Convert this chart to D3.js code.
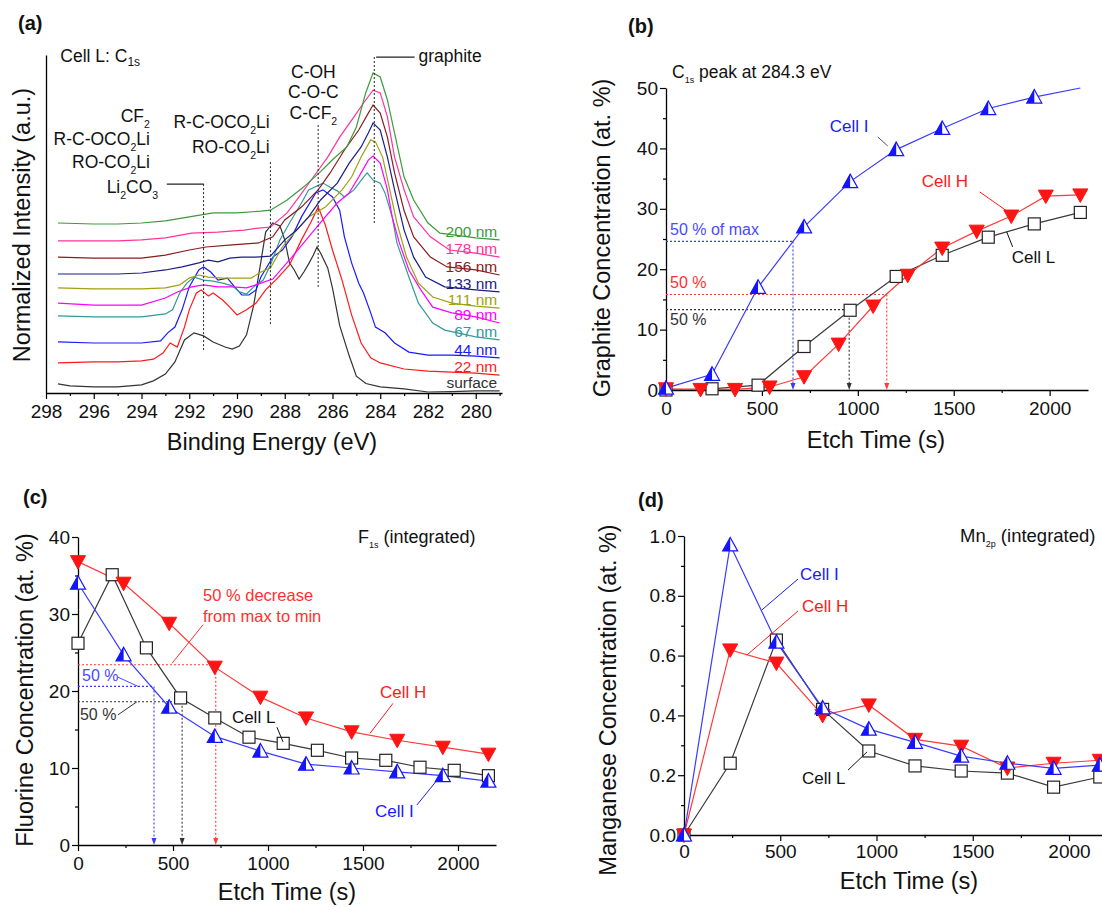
<!DOCTYPE html>
<html>
<head>
<meta charset="utf-8">
<script src="https://cdn.jsdelivr.net/npm/d3@7"></script>
<style>
  body { margin:0; background:#fff; }
  svg text { font-family: Arial, "Liberation Sans", sans-serif; }
</style>
</head>
<body>
<svg id="fig" width="1102" height="907"></svg>
<script>
// ---------- panel (a): C1s spectra, [binding energy (eV), normalized intensity] ----------
var spectrumSurface = [[297.5,2.7],[297,2.1],[296,1.8],[295,1.8],[294,2.4],[293.5,3.6],[293,5.6],[292.6,9.2],[292.2,15.7],[291.8,17.8],[291.4,16.9],[291,15.1],[290.5,13.6],[290.2,13],[289.9,13.9],[289.6,17.2],[289.3,26],[289,38.8],[288.8,47.6],[288.5,50.3],[288.2,49.4],[288,45.3],[287.8,38.5],[287.6,36.4],[287.4,33.7],[287.2,35.8],[287,38.2],[286.8,40.8],[286.65,43.2],[286.5,41.4],[286.2,37],[286,31],[285.7,20],[285.3,11],[285,5],[284.6,2.8],[284,1.8],[283,1.2],[282,0.3],[281,0.4],[280,0.6],[279,0.6]];
var spectrum22 = [[297.5,8.9],[296,9.2],[295,9.2],[294,9.5],[293.5,10],[293.1,11.8],[292.8,14.8],[292.5,13.6],[292.2,19.5],[292,24.6],[291.7,29.6],[291.5,30.5],[291.2,28.7],[291,29.6],[290.6,27.5],[290.3,25.4],[290,23.1],[289.6,24.6],[289.2,26.6],[288.8,30.5],[288.3,34],[287.8,37.9],[287.3,45.3],[286.9,50.6],[286.6,55],[286.3,49.7],[286,42.3],[285.6,33.4],[285.2,23.1],[284.8,14.8],[284.4,10.4],[284,8.9],[283,7.1],[282,6.5],[281,6.2],[280,5.9],[279,5.3]];
var spectrum44 = [[297.5,15.1],[296,14.8],[295,14.8],[294,14.8],[293.2,15.4],[292.9,17.8],[292.6,19.5],[292.3,24.6],[292,31.4],[291.6,36.4],[291.4,37.3],[291.1,35.8],[290.8,33.4],[290.4,34],[290.1,31.4],[289.8,29],[289.5,29],[289.2,30.5],[289,34.3],[288.5,40.2],[288.1,42.3],[287.7,46.2],[287.3,52.1],[286.7,59.2],[286.4,60.1],[286,58],[285.7,54.1],[285.5,46.2],[285.2,38.5],[284.9,32.5],[284.7,29.6],[284.4,23.7],[284.2,19.5],[283.8,17.8],[283.4,14.8],[282.8,12.1],[282,11.2],[281,11.2],[280,10.9],[279,10.4]];
var spectrum67 = [[297.5,22.8],[296,22.5],[295,22.5],[294,22.5],[293,23.4],[292.7,24.6],[292.4,29.6],[292.1,32.5],[291.8,34.3],[291.4,33.4],[291,33.1],[290.6,32.5],[290.2,31.7],[289.9,29.9],[289.6,29.3],[289.3,31.4],[288.9,33.4],[288.6,37.9],[288.2,45.3],[287.8,50.3],[287.3,56.2],[287,60.1],[286.4,62.1],[286.1,60.9],[285.8,59.8],[285.5,58],[285.1,60.1],[284.7,63.9],[284.55,65.1],[284.3,63],[284,62.1],[283.8,59.2],[283.5,52.1],[283.3,44.4],[282.8,34.3],[282.4,26.6],[281.8,20.7],[281.3,18.6],[280,16.6],[279,15.7]];
var spectrum89 = [[297.5,26.6],[296,26],[295,26],[294,26],[293,28.1],[292.5,29.9],[291.9,31.4],[291.4,32],[290.8,31.4],[290.2,31.4],[289.6,31.1],[289,32.5],[288.5,33.7],[287.7,40.2],[287,46.2],[286.3,52.1],[285.8,56.2],[285.3,59.2],[284.9,63.9],[284.5,68.9],[284.3,70.1],[284,68],[283.7,60.1],[283.5,52.1],[283.2,44.4],[282.8,36.4],[282.3,30.5],[281.8,25.4],[281,23.7],[280,22.5],[279,20.7]];
var spectrum111 = [[297.5,31.1],[296,30.8],[295,30.8],[294,30.8],[293,31.1],[292.4,32],[292,34],[291.6,34.9],[291.2,34.3],[290.6,34],[290,34],[289.4,34],[289,35.8],[288.6,37],[288.1,43.2],[287.5,48.2],[287,52.1],[286.3,55],[285.6,60.1],[285.2,63.9],[284.8,69.8],[284.4,74.9],[284.2,74.3],[283.9,69.8],[283.6,60.1],[283.3,50.3],[282.9,40.2],[282.4,32.5],[281.8,28.4],[281,26.6],[280,25.7],[279,25.1]];
var spectrum133 = [[297.5,35.2],[296,35.2],[295,35.2],[294,35.5],[293,36.4],[292.3,37.3],[291.6,38.5],[291.2,39.3],[290.8,38.8],[290.3,39.9],[289.8,40.2],[289.2,40.2],[288.6,40.5],[288,45.3],[287.5,48.2],[287,52.1],[286.5,57.1],[285.8,62.1],[285.3,68],[284.8,72.8],[284.5,76.9],[284.3,79.9],[284,77.8],[283.7,69.8],[283.4,60.1],[283,48.2],[282.6,40.2],[282.1,34.3],[281.3,31.4],[280,30.5],[279,29.9]];
var spectrum156 = [[297.5,40.2],[296,39.9],[295,39.9],[294,39.9],[293,40.8],[292,42.3],[291.3,43.2],[290.2,43.8],[289.1,44.4],[288.5,46.2],[288,51.2],[287.3,55],[286.6,60.1],[286.1,65.1],[285.5,71.9],[284.9,77.8],[284.5,82.8],[284.3,85.2],[284,82.8],[283.7,75.7],[283.4,65.1],[283,53.9],[282.6,46.2],[281.9,40.2],[281.2,37.3],[280,36.4],[279,34.9]];
var spectrum178 = [[297.5,45],[296,45],[295,45],[294,45.3],[293,45.9],[291.9,47.3],[290.8,47.6],[289.7,48.2],[289.1,48.8],[288.6,49.1],[287.9,53.3],[287.4,58],[286.8,63.9],[286.2,69.8],[285.7,75.7],[285.1,81.7],[284.7,85.8],[284.3,89.6],[284,88.8],[283.7,81.7],[283.4,69.8],[283,60.1],[282.6,52.1],[281.9,46.2],[281.1,42.3],[280,41.4],[279,40.2]];
var spectrum200 = [[297.5,50.3],[296,50],[295,50],[294,50.3],[293,50.9],[292,52.1],[291,53.3],[290,53.3],[289,53.8],[288.6,54.1],[287.9,57.1],[287.2,61],[286.5,65.5],[286,69],[285.4,72.8],[285,78.7],[284.6,89],[284.3,94.7],[284,93.5],[283.7,86.7],[283.4,76.9],[283,63.9],[282.6,57.1],[282,50.3],[281.5,47.3],[280,45.9],[279,45.3]];
var depthLabels = ["surface","22 nm","44 nm","67 nm","89 nm","111 nm","133 nm","156 nm","178 nm","200 nm"];
var spectraList = [spectrumSurface,spectrum22,spectrum44,spectrum67,spectrum89,spectrum111,spectrum133,spectrum156,spectrum178,spectrum200];
var spectraColors = ["#333333","#ff1a1a","#1a1aff","#339999","#ff00ff","#a0a010","#1c1c8b","#8b1c1c","#ff3399","#3c9a3c"];

// ---------- panels (b)-(d): etch time (s) vs concentration ----------
var etch240 = [0,240,480,720,960,1200,1440,1680,1920,2160];
var etch180 = [0,180,360,540,720,900,1080,1260,1440,1620,1800,1980,2160];

var graphiteI = [0.3,2.6,17,27,34.5,39.8,43.3,46.6,48.5,51];
var graphiteH = [0.2,0.1,0.1,0.5,2.2,7.6,13.9,19,23.5,26.3,28.8,32.1,32.3];
var graphiteL = [0,0.2,0.8,7.2,13.2,18.8,22.3,25.3,27.5,29.4];

var fluorineI = [34,24.7,17.9,14.1,12.2,10.5,10,9.5,9,8.3];
var fluorineH = [36.8,34,28.8,23.1,19.2,16.5,14.7,13.6,12.7,11.8];
var fluorineL = [26.2,35.1,25.6,19.1,16.5,14,13.2,12.3,11.3,11,10.1,9.7,9];

var manganeseI = [0,0.97,0.645,0.425,0.354,0.31,0.264,0.24,0.223,0.234];
var manganeseH = [0,0.619,0.575,0.4,0.435,0.32,0.297,0.224,0.24,0.25];
var manganeseL = [0,0.24,0.652,0.42,0.281,0.231,0.214,0.207,0.16,0.194];

// 50 % points: cells I, H, L
var halfCells = ["I","H","L"];
var graphiteHalfLevel = [24.6,15.8,13.3];
var graphiteHalfTime = [662,1151,955];
var fluorineHalfLevel = [20.6,23.4,18.6];
var fluorineHalfTime = [400,725,548];

var FONT = 'Arial, "Liberation Sans", sans-serif';
var TICK = 19, TITLE = 23.5;
var cellStyle = {
  I:{line:"#3a3aff", color:"#1414ff", text:"#1a1aff"},
  H:{line:"#ff3a3a", color:"#ff1414", text:"#ff1a1a"},
  L:{line:"#3a3a3a", color:"#222222", text:"#111111"}
};

var svg = d3.select("#fig");
svg.append("rect").attr("width",1102).attr("height",907).attr("fill","#fff");

function addText(g, x, y, str, o){
  o = o || {};
  var t = g.append("text").attr("x",x).attr("y",y)
    .attr("font-size",o.size||16).attr("fill",o.color||"#111")
    .attr("text-anchor",o.anchor||"start")
    .attr("font-weight",o.weight||"normal");
  var parts = str.split(/(_\{[^}]*\})/).filter(function(p){return p.length>0;});
  var shift = 0;
  var subDy = o.subDy||5, subSize = o.subSize||10;
  parts.forEach(function(p){
    if(p.indexOf("_{")===0){
      t.append("tspan").attr("dy",subDy).attr("font-size",subSize).text(p.slice(2,-1));
      shift = subDy;
    } else {
      t.append("tspan").attr("dy",-shift).text(p);
      shift = 0;
    }
  });
  return t;
}

function styleAxis(sel, size){
  sel.attr("font-family",FONT);
  sel.select(".domain").attr("stroke","#000").attr("stroke-width",1.3);
  sel.selectAll(".tick line").attr("stroke","#000").attr("stroke-width",1.2);
  sel.selectAll(".tick text").attr("font-size",size).attr("fill","#111");
}

function yLabel(g, cx, cy, str){
  g.append("text").attr("transform","translate("+cx+","+cy+") rotate(-90)")
    .attr("text-anchor","middle").attr("dy","0.35em")
    .attr("font-size",TITLE).attr("fill","#111").text(str);
}

// ================= panel (a) =================
(function(){
  var g = svg.append("g");
  var x = d3.scaleLinear().domain([298,278.9]).range([46,502]);
  var y = d3.scaleLinear().domain([0,100]).range([393,55]);

  var xa = g.append("g").attr("transform","translate(0,393)")
    .call(d3.axisBottom(x).tickValues(d3.range(280,299,2)).tickFormat(d3.format("d")).tickSize(6).tickPadding(5.5).tickSizeOuter(0));
  styleAxis(xa,TICK);
  var xm = g.append("g").attr("transform","translate(0,393)")
    .call(d3.axisBottom(x).tickValues(d3.range(279,298,2)).tickSize(3).tickFormat("").tickSizeOuter(0));
  xm.select(".domain").remove();
  xm.selectAll(".tick line").attr("stroke","#000").attr("stroke-width",1.2);
  var ya = g.append("g").attr("transform","translate(46,0)")
    .call(d3.axisLeft(y).tickValues([]).tickSizeOuter(0));
  styleAxis(ya,TICK);

  var line = d3.line().x(function(d){return x(d[0]);}).y(function(d){return y(d[1]);});
  spectraList.forEach(function(s,i){
    g.append("path").datum(s).attr("d",line).attr("fill","none")
      .attr("stroke",spectraColors[i]).attr("stroke-width",1.2);
    var last = s[s.length-1];
    g.append("text").attr("x",x(279.1)).attr("y",y(last[1])-3)
      .attr("text-anchor","end").attr("font-size",15.5)
      .attr("fill",spectraColors[i]).text(depthLabels[i]);
  });

  // peak assignments
  function dotted(e, i0, i1){
    g.append("line").attr("x1",x(e)).attr("x2",x(e)).attr("y1",y(i0)).attr("y2",y(i1))
      .attr("stroke","#222").attr("stroke-width",1).attr("stroke-dasharray","2,2");
  }
  function solid(e0, e1, v){
    g.append("line").attr("x1",x(e0)).attr("x2",x(e1)).attr("y1",y(v)).attr("y2",y(v))
      .attr("stroke","#222").attr("stroke-width",1.2);
  }
  var lab = {size:17.5, subSize:10.5, subDy:6};
  // graphite
  dotted(284.25, 99.4, 50.3);
  solid(284.17, 282.56, 99.4);
  addText(g, x(282.4), y(97.9), "graphite", lab);
  // C-OH group
  dotted(286.6, 79.3, 31.4);
  ["C-OH","C-O-C","C-CF_{2}"].forEach(function(s,k){
    addText(g, x(286.8), y([93.2,87.3,81.1][k]), s, {size:17.5, subSize:10.5, subDy:6, anchor:"middle"});
  });
  // carbonate group (middle)
  dotted(288.6, 68.3, 20.1);
  addText(g, x(288.63), y(78.4), "R-C-OCO_{2}Li", {size:17.5, subSize:10.5, subDy:6, anchor:"end"});
  addText(g, x(288.63), y(71), "RO-CO_{2}Li", {size:17.5, subSize:10.5, subDy:6, anchor:"end"});
  // left group
  dotted(291.4, 61.8, 12.7);
  solid(292.94, 291.39, 61.8);
  ["CF_{2}","R-C-OCO_{2}Li","RO-CO_{2}Li"].forEach(function(s,k){
    addText(g, x(293.65), y([80.2,73.4,66.6][k]), s, {size:17.5, subSize:10.5, subDy:6, anchor:"end"});
  });
  addText(g, x(293.3), y(59.2), "Li_{2}CO_{3}", {size:17.5, subSize:10.5, subDy:6, anchor:"end"});

  addText(g, x(297.4), y(97.9), "Cell L: C_{1s}", {size:17.5, subSize:12, subDy:4});
  addText(g, 18, 30, "(a)", {size:20, weight:"bold"});
  g.append("text").attr("x",272).attr("y",450).attr("text-anchor","middle")
    .attr("font-size",TITLE).attr("fill","#111").text("Binding Energy (eV)");
  yLabel(g, 22, 225, "Normalized Intensity (a.u.)");
})();

// ================= markers =================
function drawMarker(g, kind, cx, cy){
  var st = cellStyle[kind];
  var m = g.append("g").attr("transform","translate("+cx+","+cy+")");
  if(kind==="I"){
    m.append("path").attr("d","M0,-7.5L7.5,6L-7.5,6Z").attr("fill","#fff")
      .attr("stroke",st.color).attr("stroke-width",1.2);
    m.append("path").attr("d","M0,-7.5L-7.5,6L0,6Z").attr("fill",st.color);
  } else if(kind==="H"){
    m.append("path").attr("d","M-7.5,-6L7.5,-6L0,7.5Z").attr("fill",st.color)
      .attr("stroke",st.color).attr("stroke-width",1);
  } else {
    m.append("rect").attr("x",-6).attr("y",-6).attr("width",12).attr("height",12)
      .attr("fill","#fff").attr("stroke",st.color).attr("stroke-width",1.2);
  }
}

// ================= generic concentration panel =================
function concPanel(o){
  var g = svg.append("g");
  var x = d3.scaleLinear().domain([0,2200]).range(o.xr);
  var y = d3.scaleLinear().domain(o.yDomain).range(o.yr);
  var yc = y.copy().clamp(true);
  var x0 = o.xr[0], yb = o.yr[0];

  var xa = g.append("g").attr("transform","translate(0,"+yb+")")
    .call(d3.axisBottom(x).tickValues([0,500,1000,1500,2000]).tickFormat(d3.format("d"))
      .tickSize(6).tickPadding(o.xPad).tickSizeOuter(0));
  styleAxis(xa,TICK);
  var xm = g.append("g").attr("transform","translate(0,"+yb+")")
    .call(d3.axisBottom(x).tickValues([250,750,1250,1750]).tickSize(3).tickFormat("").tickSizeOuter(0));
  xm.select(".domain").remove();
  xm.selectAll(".tick line").attr("stroke","#000").attr("stroke-width",1.2);
  var ya = g.append("g").attr("transform","translate("+x0+",0)")
    .call(d3.axisLeft(y).tickValues(o.yTicks).tickFormat(o.yFormat).tickSize(6).tickPadding(2).tickSizeOuter(0));
  styleAxis(ya,TICK);
  var ym = g.append("g").attr("transform","translate("+x0+",0)")
    .call(d3.axisLeft(y).tickValues(o.yMinor).tickSize(3).tickFormat("").tickSizeOuter(0));
  ym.select(".domain").remove();
  ym.selectAll(".tick line").attr("stroke","#000").attr("stroke-width",1.2);

  // 50 % guides
  if(o.halfLevel){
    halfCells.forEach(function(c,k){
      var col = c==="L" ? "#333" : cellStyle[c].line;
      var lv = o.halfLevel[k], t = o.halfTime[k];
      g.append("line").attr("x1",x(0)).attr("x2",x(t)).attr("y1",y(lv)).attr("y2",y(lv))
        .attr("stroke",col).attr("stroke-width",1.1).attr("stroke-dasharray","2,2");
      g.append("line").attr("x1",x(t)).attr("x2",x(t)).attr("y1",y(lv)).attr("y2",y(0)-6)
        .attr("stroke",col).attr("stroke-width",1.1).attr("stroke-dasharray","2,2");
      g.append("path").attr("transform","translate("+x(t)+","+y(0)+")")
        .attr("d","M-2.5,-7L2.5,-7L0,0Z").attr("fill",col);
    });
  }

  // lines then markers
  var line = d3.line().x(function(d){return x(d[0]);}).y(function(d){return yc(d[1]);});
  o.series.forEach(function(s){
    var pts = s.t.map(function(t,i){return [t, s.v[i]];});
    g.append("path").datum(pts).attr("d",line).attr("fill","none")
      .attr("stroke",cellStyle[s.cell].line).attr("stroke-width",1.2);
  });
  o.series.forEach(function(s){
    s.t.forEach(function(t,i){
      if(s.v[i] > o.yDomain[1]) return;
      drawMarker(g, s.cell, x(t), y(s.v[i]));
    });
  });

  // labels with leaders
  o.labels.forEach(function(l){
    var col = l.color || cellStyle[l.cell].text;
    addText(g, x(l.x), y(l.y), l.t, {size:l.size||17, color:col, anchor:l.anchor});
    if(l.lx){
      g.append("line").attr("x1",x(l.lx[0])).attr("x2",x(l.lx[1]))
        .attr("y1",y(l.ly[0])).attr("y2",y(l.ly[1]))
        .attr("stroke",l.leader||col).attr("stroke-width",1);
    }
  });

  addText(g, o.title[0], o.title[1], o.title[2], {size:o.title[3]||18, subSize:9, subDy:5});
  addText(g, o.tag[0], o.tag[1], o.tag[2], {size:20, weight:"bold"});
  g.append("text").attr("x",o.xLab[0]).attr("y",o.xLab[1]).attr("text-anchor","middle")
    .attr("font-size",TITLE).attr("fill","#111").text("Etch Time (s)");
  yLabel(g, o.yLab[0], o.yLab[1], o.yLab[2]);
}

// ================= panel (b) =================
concPanel({
  xr:[666,1088], yr:[390,88], yDomain:[0,50],
  yTicks:[0,10,20,30,40,50], yMinor:[5,15,25,35,45], yFormat:d3.format("d"), xPad:5.5,
  halfLevel:graphiteHalfLevel, halfTime:graphiteHalfTime,
  series:[
    {cell:"L", t:etch240, v:graphiteL},
    {cell:"H", t:etch180, v:graphiteH},
    {cell:"I", t:etch240, v:graphiteI}
  ],
  labels:[
    {t:"Cell I", cell:"I", x:854, y:42.7, lx:[1104,1156], ly:[41.9,40.4], leader:"#555"},
    {t:"Cell H", cell:"H", x:1333, y:33.6, lx:[1635,1792], ly:[32.8,29.3]},
    {t:"Cell L", cell:"L", x:1802, y:21, lx:[1776,1807], ly:[26.2,23.7]},
    {t:"50 % of max", cell:"I", color:"#4a4aff", x:21, y:25.7, size:16},
    {t:"50 %", cell:"H", color:"#ff3030", x:21, y:16.9, size:16},
    {t:"50 %", cell:"L", color:"#333", x:21, y:10.8, size:16}
  ],
  title:[672,78,"C_{1s} peak at 284.3 eV",17.5],
  tag:[628,33,"(b)"],
  xLab:[876,448],
  yLab:[602,238,"Graphite Concentration (at. %)"]
});

// ================= panel (c) =================
concPanel({
  xr:[78,496], yr:[845,537], yDomain:[0,40],
  yTicks:[0,10,20,30,40], yMinor:[5,15,25,35], yFormat:d3.format("d"), xPad:5.5,
  halfLevel:fluorineHalfLevel, halfTime:fluorineHalfTime,
  series:[
    {cell:"L", t:etch180, v:fluorineL},
    {cell:"H", t:etch240, v:fluorineH},
    {cell:"I", t:etch240, v:fluorineI}
  ],
  labels:[
    {t:"Cell H", cell:"H", x:1589, y:19.1, lx:[1658,1537], ly:[18.4,14.5]},
    {t:"Cell L", cell:"L", x:810, y:15.8, lx:[1047,1079], ly:[15.3,13.4]},
    {t:"Cell I", cell:"I", x:1563, y:3.6, lx:[1784,1889], ly:[5.2,8.4]},
    {t:"50 % decrease", cell:"H", color:"#ff3030", x:658, y:31.7, size:16.5},
    {t:"from max to min", cell:"H", color:"#ff3030", x:658, y:29, size:16.5, lx:[495,658], ly:[23.6,28.6]},
    {t:"50 %", cell:"I", color:"#4a4aff", x:21, y:21.3, size:16, lx:[210,316], ly:[21.8,20.6]},
    {t:"50 %", cell:"L", color:"#333", x:10, y:16.2, size:16, lx:[210,310], ly:[16.9,18.6]}
  ],
  title:[358,543,"F_{1s} (integrated)"],
  tag:[23,504,"(c)"],
  xLab:[287,900],
  yLab:[25,690,"Fluorine Concentration (at. %)"]
});

// ================= panel (d) =================
concPanel({
  xr:[684,1107.5], yr:[835,536], yDomain:[0,1],
  yTicks:[0,0.2,0.4,0.6,0.8,1.0], yMinor:[0.1,0.3,0.5,0.7,0.9], yFormat:d3.format(".1f"), xPad:3.5,
  series:[
    {cell:"L", t:etch240, v:manganeseL},
    {cell:"H", t:etch240, v:manganeseH},
    {cell:"I", t:etch240, v:manganeseI}
  ],
  labels:[
    {t:"Cell I", cell:"I", x:603, y:0.853, lx:[592,405], ly:[0.856,0.753]},
    {t:"Cell H", cell:"H", x:613, y:0.746, lx:[592,327], ly:[0.749,0.602]},
    {t:"Cell L", cell:"L", x:613, y:0.171, lx:[852,951], ly:[0.217,0.278]}
  ],
  title:[960,542,"Mn_{2p} (integrated)",18.5],
  tag:[638,507,"(d)"],
  xLab:[909,889],
  yLab:[608,700,"Manganese Concentration (at. %)"]
});
</script>
</body>
</html>
